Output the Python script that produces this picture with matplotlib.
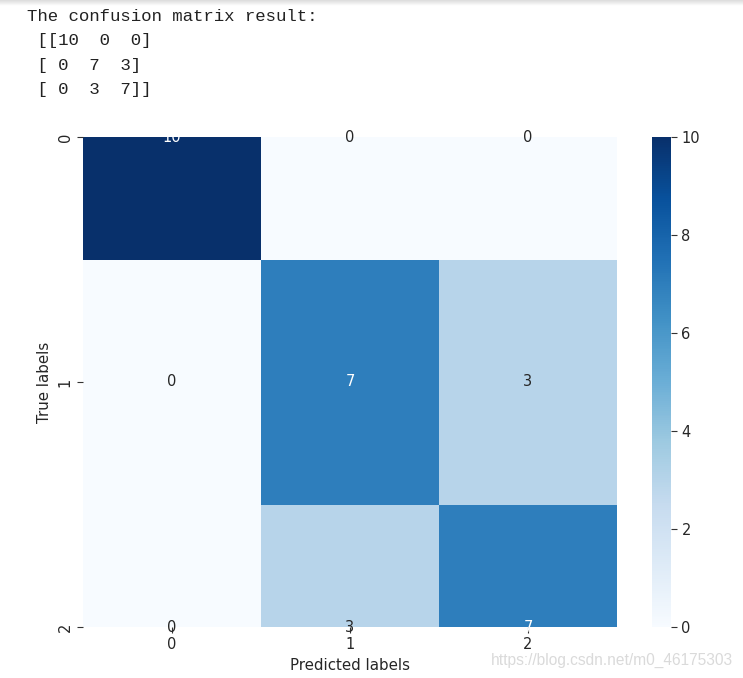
import numpy as np
import matplotlib
matplotlib.use('Agg')
import matplotlib.pyplot as plt
import seaborn as sns

# confusion matrix values
row0 = [10, 0, 0]
row1 = [0, 7, 3]
row2 = [0, 3, 7]
class_labels = ['0', '1', '2']

cm = np.array([row0, row1, row2])

fig = plt.figure(figsize=(7.43, 6.78), dpi=100)

# grey shadow of the notebook cell at the top
shade = fig.add_axes([0, 1 - 6 / 678, 1, 6 / 678])
shade.imshow(np.linspace(0.86, 1.0, 20).reshape(-1, 1), cmap='gray', vmin=0, vmax=1,
             aspect='auto', extent=[0, 1, 0, 1])
shade.axis('off')

# printed output above the plot, as print('...:\n', cm) gives it
printed = 'The confusion matrix result:\n ' + str(cm)
fig.text(27 / 743, 1 - 9 / 678, printed, family='Liberation Mono', fontsize=12.5,
         va='top', ha='left', linespacing=1.78, color='#222222')

ax = fig.add_axes([83 / 743, 51 / 678, 534 / 743, 490 / 678])
cax = fig.add_axes([652 / 743, 51 / 678, 19 / 743, 490 / 678])

sns.heatmap(cm, annot=True, cmap='Blues', ax=ax, cbar_ax=cax,
            xticklabels=class_labels, yticklabels=class_labels,
            annot_kws={'fontsize': 10.5})

# the old matplotlib cut the first and last rows in half
ax.set_ylim(2.5, 0.5)
ax.set_yticks([0.5, 1.5, 2.5])
ax.set_yticklabels(class_labels, rotation=90, va='center')
ax.tick_params(axis='both', length=4, color='#333333', labelsize=10.5, labelcolor='#262626')
ax.set_xlabel('Predicted labels', fontsize=10.8, color='#262626')
ax.set_ylabel('True labels', fontsize=10.8, color='#262626')

cax.tick_params(length=4, color='#333333', labelsize=10.5, labelcolor='#262626')
cax.set_yticks([0, 2, 4, 6, 8, 10])
for sp in cax.spines.values():
    sp.set_visible(False)

fig.text(733 / 743, 1 - 660 / 678, 'https://blog.csdn.net/m0_46175303',
         family='Liberation Sans', fontsize=11.2, color='#dadada', ha='right', va='center')

plt.savefig('out.png', dpi=100)
